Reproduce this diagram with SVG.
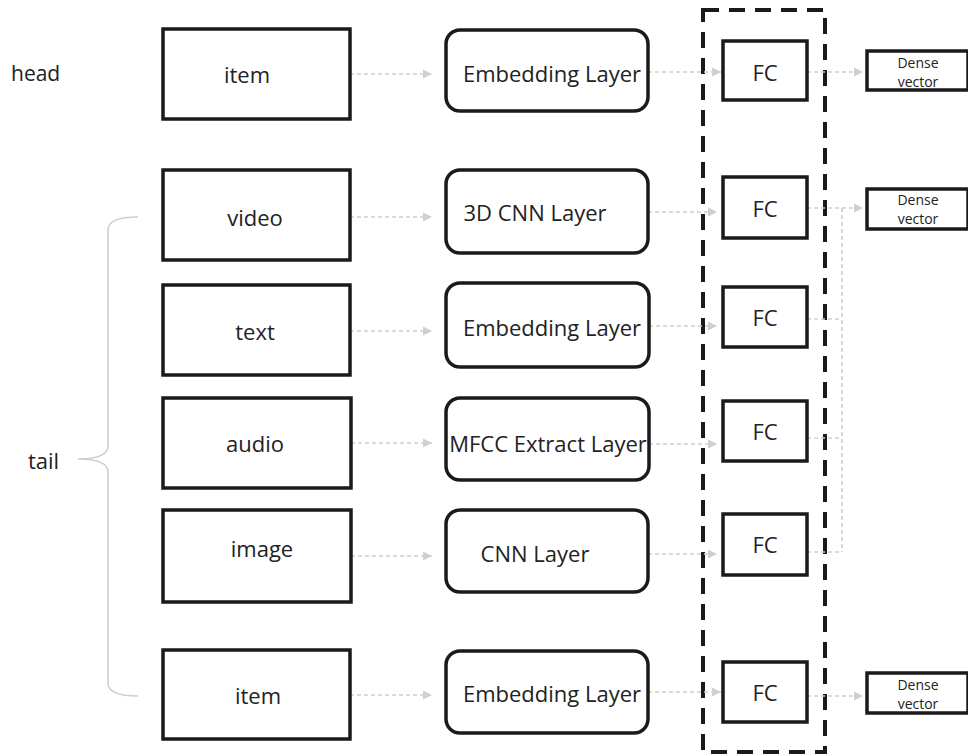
<svg xmlns="http://www.w3.org/2000/svg" width="968" height="754" viewBox="0 0 968 754">
<defs>
<marker id="arr" markerUnits="userSpaceOnUse" markerWidth="10" markerHeight="10" refX="9" refY="5" orient="auto">
<path d="M0,0.5 L9,5 L0,9.5 z" fill="#cfcfcf"/>
</marker>
<style>
.box{fill:#fff;stroke:#1a1a1a;stroke-width:3.5}
.rbox{fill:#fff;stroke:#1a1a1a;stroke-width:3.5}
.t{font-family:"Open Sans","Noto Sans",sans-serif;font-size:22px;fill:#222;dominant-baseline:central}
.ts{font-family:"Open Sans","Noto Sans",sans-serif;font-size:14px;fill:#222;text-anchor:middle;dominant-baseline:central}
.c{fill:none;stroke:#cfcfcf;stroke-width:1.6;stroke-dasharray:4 3}
.ca{fill:none;stroke:#cfcfcf;stroke-width:1.6;stroke-dasharray:4 3;marker-end:url(#arr)}
.m{text-anchor:middle}
</style>
</defs>
<rect width="968" height="754" fill="#fff"/>

<g id="labels">
<text class="t" x="11" y="73" style="font-size:21px">head</text>
<text class="t" x="28" y="460">tail</text>
<path d="M138,217 Q108,217 108,230 V446 Q108,459 78,459 Q108,459 108,472 V683 Q108,696 138,696" fill="none" stroke="#cfcfcf" stroke-width="1.6"/>
</g>

<g id="container">
<rect x="703" y="10" width="122" height="742" fill="none" stroke="#1a1a1a" stroke-width="4" stroke-dasharray="16 10"/>
</g>

<g id="connectors">
<path class="ca" d="M350,74 H432"/>
<path class="ca" d="M350,217 H432"/>
<path class="ca" d="M350,331 H432"/>
<path class="ca" d="M351,443 H432"/>
<path class="ca" d="M351,556 H432"/>
<path class="ca" d="M350,695 H432"/>
<path class="ca" d="M648,72 H721"/>
<path class="ca" d="M648,212 H717"/>
<path class="ca" d="M649,326 H717"/>
<path class="ca" d="M649,444 H717"/>
<path class="ca" d="M648,554 H717"/>
<path class="ca" d="M648,692 H721"/>
<path class="ca" d="M807,72 H863"/>
<path class="ca" d="M807,696 H863"/>
<path class="ca" d="M807,208 H863"/>
<path class="c" d="M807,319 H842 M807,438 H842 M807,552 H842 M842,208 V552"/>
</g>

<g id="in-item-head"><rect class="box" x="163" y="29" width="187" height="90"/><text class="t m" x="247" y="74">item</text></g>
<g id="in-video"><rect class="box" x="163" y="170" width="187" height="90"/><text class="t m" x="255" y="217">video</text></g>
<g id="in-text"><rect class="box" x="163" y="285" width="187" height="90"/><text class="t m" x="255" y="331">text</text></g>
<g id="in-audio"><rect class="box" x="163" y="398" width="188" height="90"/><text class="t m" x="255" y="443">audio</text></g>
<g id="in-image"><rect class="box" x="163" y="510" width="188" height="92"/><text class="t m" x="262" y="548">image</text></g>
<g id="in-item-tail"><rect class="box" x="163" y="650" width="187" height="89"/><text class="t m" x="258" y="695">item</text></g>

<g id="emb-head"><rect class="rbox" x="446" y="30" width="202" height="81" rx="14"/><text class="t m" x="552" y="73">Embedding Layer</text></g>
<g id="cnn3d"><rect class="rbox" x="446" y="170" width="202" height="83" rx="14"/><text class="t m" x="535" y="212">3D CNN Layer</text></g>
<g id="emb-text"><rect class="rbox" x="446" y="283" width="203" height="84" rx="14"/><text class="t m" x="552" y="327">Embedding Layer</text></g>
<g id="mfcc"><rect class="rbox" x="446" y="398" width="203" height="82" rx="14"/><text class="t m" x="548" y="443">MFCC Extract Layer</text></g>
<g id="cnn"><rect class="rbox" x="446" y="510" width="202" height="82" rx="14"/><text class="t m" x="535" y="553">CNN Layer</text></g>
<g id="emb-tail"><rect class="rbox" x="446" y="651" width="202" height="82" rx="14"/><text class="t m" x="552" y="693">Embedding Layer</text></g>

<g id="fc1"><rect class="box" x="723" y="41" width="84" height="59"/><text class="t m" x="765" y="72">FC</text></g>
<g id="fc2"><rect class="box" x="723" y="177" width="84" height="61"/><text class="t m" x="765" y="208">FC</text></g>
<g id="fc3"><rect class="box" x="723" y="287" width="84" height="60"/><text class="t m" x="765" y="317">FC</text></g>
<g id="fc4"><rect class="box" x="723" y="401" width="84" height="60"/><text class="t m" x="765" y="431">FC</text></g>
<g id="fc5"><rect class="box" x="723" y="514" width="84" height="61"/><text class="t m" x="765" y="544">FC</text></g>
<g id="fc6"><rect class="box" x="723" y="662" width="84" height="60"/><text class="t m" x="765" y="692">FC</text></g>

<g id="dense1"><rect class="box" x="867" y="51" width="101" height="39"/><text class="ts" x="918" y="62">Dense</text><text class="ts" x="918" y="81">vector</text></g>
<g id="dense2"><rect class="box" x="867" y="189" width="101" height="40"/><text class="ts" x="918" y="199">Dense</text><text class="ts" x="918" y="218">vector</text></g>
<g id="dense3"><rect class="box" x="867" y="673" width="101" height="40"/><text class="ts" x="918" y="684">Dense</text><text class="ts" x="918" y="703">vector</text></g>
</svg>
